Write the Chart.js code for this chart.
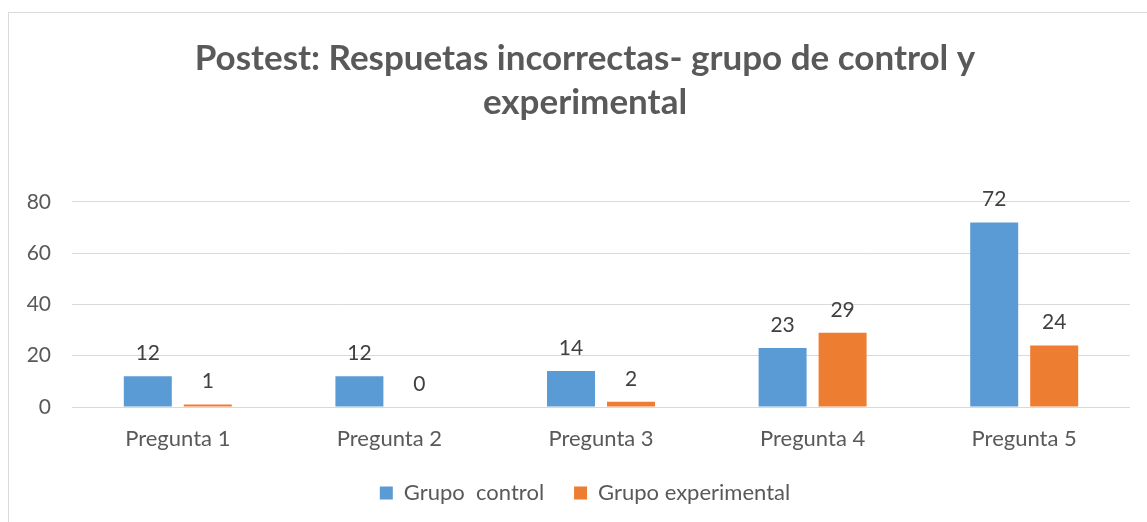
<!DOCTYPE html>
<html>
<head>
<meta charset="utf-8">
<script src="https://cdn.jsdelivr.net/npm/chart.js@4/dist/chart.umd.min.js"></script>
<style>
  body { margin: 0; background: #fff; }
  #frame { position: absolute; left: 8px; top: 12px; width: 1200px; height: 600px;
           border-left: 1px solid #d9d9d9; border-top: 1px solid #d9d9d9; }
  #wrap { position: absolute; left: 0; top: 0; width: 1147px; height: 522px; }
</style>
</head>
<body>
<div id="frame"></div>
<div id="wrap"><canvas id="grafico"></canvas></div>
<script>
// datos
const categorias = ["Pregunta 1", "Pregunta 2", "Pregunta 3", "Pregunta 4", "Pregunta 5"]
const grupoControl = [12, 12, 14, 23, 72]
const grupoExperimental = [1, 0, 2, 29, 24]
const yTicks = [0, 20, 40, 60, 80]
const titulo = ["Postest: Respuetas incorrectas- grupo de control y", "experimental"]

const fuente = "Lato, 'Open Sans', sans-serif"

// etiquetas encima de cada barra
const etiquetas = {
    id: 'etiquetas',
    afterDatasetsDraw(chart) {
        const ctx = chart.ctx
        ctx.save()
        ctx.font = "21px " + fuente
        ctx.fillStyle = "#404040"
        ctx.textAlign = "center"
        ctx.textBaseline = "alphabetic"
        chart.data.datasets.forEach((ds, i) => {
            chart.getDatasetMeta(i).data.forEach((bar, j) => {
                ctx.fillText(ds.data[j], bar.x, bar.y - 16)
            })
        })
        ctx.restore()
    }
}

new Chart(document.getElementById("grafico"), {
    type: 'bar',
    data: {
        labels: categorias,
        datasets: [{
            label: "Grupo  control",
            data: grupoControl,
            backgroundColor: "#5b9bd5",
            barPercentage: 0.8,
            categoryPercentage: 0.567
        }, {
            label: "Grupo experimental",
            data: grupoExperimental,
            backgroundColor: "#ed7d31",
            barPercentage: 0.8,
            categoryPercentage: 0.567
        }]
    },
    options: {
        responsive: true,
        maintainAspectRatio: false,
        animation: false,
        layout: { padding: { left: 26, right: 3, top: 36, bottom: 8 } },
        plugins: {
            title: {
                display: true,
                text: titulo,
                color: "#595959",
                font: { family: fuente, size: 35, weight: 'bold', lineHeight: 1.27 },
                padding: { top: 0, bottom: 77 }
            },
            legend: {
                position: 'bottom',
                labels: {
                    color: "#595959",
                    font: { family: fuente, size: 22 },
                    boxWidth: 13,
                    boxHeight: 13,
                    padding: 30
                }
            },
            tooltip: { enabled: false }
        },
        scales: {
            x: {
                afterFit(scale) { scale.height = 45 },
                grid: { display: false, drawTicks: false },
                border: { display: false },
                ticks: { color: "#595959", font: { family: fuente, size: 22 }, padding: 19 }
            },
            y: {
                min: 0,
                max: 80,
                afterBuildTicks(scale) { scale.ticks = yTicks.map(v => ({ value: v })) },
                afterFit(scale) { scale.width = 46 },
                grid: { color: "#d9d9d9", drawTicks: false },
                border: { display: false },
                ticks: { color: "#595959", font: { family: fuente, size: 21 }, padding: 21 }
            },
            // eje vacio a la derecha, solo para dejar margen
            y2: {
                position: 'right',
                display: true,
                min: 0,
                max: 80,
                afterFit(scale) { scale.width = 14 },
                grid: { display: false, drawTicks: false },
                border: { display: false },
                ticks: { display: false }
            }
        }
    },
    plugins: [etiquetas]
});
</script>
</body>
</html>
